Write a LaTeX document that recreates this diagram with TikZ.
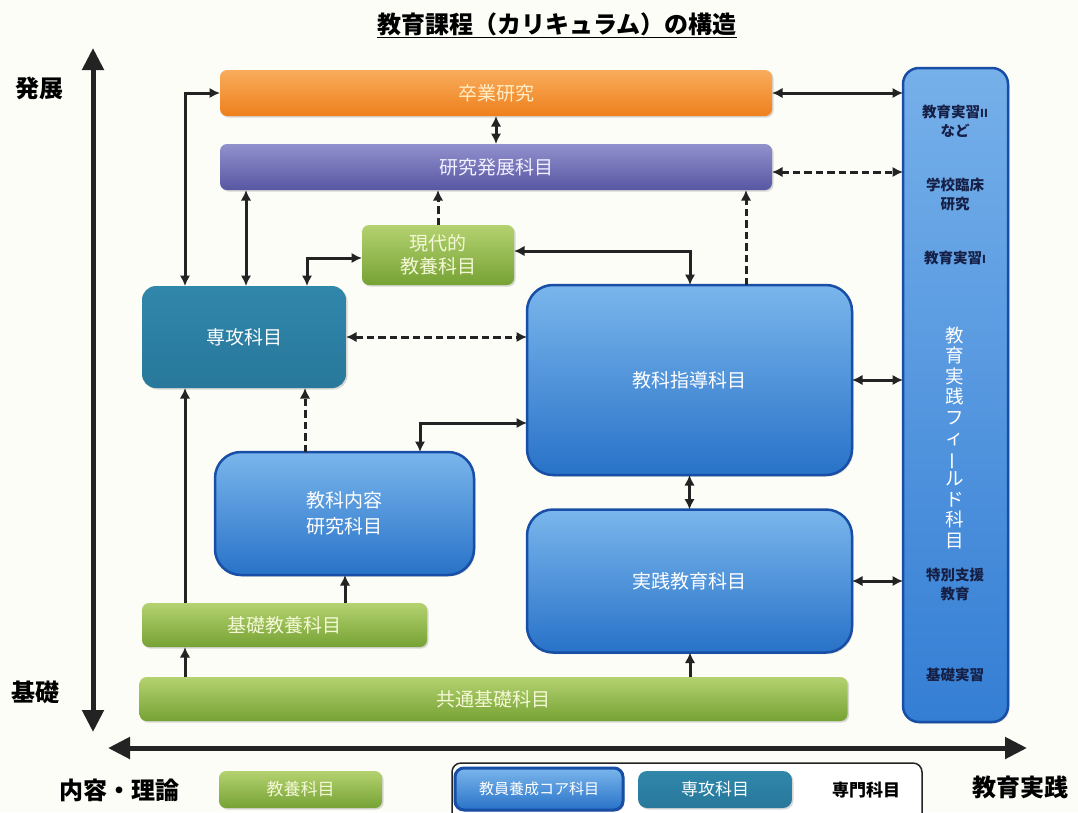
\documentclass[tikz,border=0pt]{standalone}
\usepackage{fontspec}
\usepackage{graphicx}
\setmainfont{Noto Sans CJK JP}
\usetikzlibrary{arrows.meta,shadows}
\definecolor{bg}{RGB}{253,253,247}
\definecolor{orTop}{RGB}{249,172,92}
\definecolor{orBot}{RGB}{238,128,28}
\definecolor{orText}{RGB}{255,238,200}
\definecolor{puTop}{RGB}{145,145,205}
\definecolor{puBot}{RGB}{88,86,162}
\definecolor{puText}{RGB}{240,240,255}
\definecolor{grTop}{RGB}{180,210,112}
\definecolor{grBot}{RGB}{118,162,52}
\definecolor{grText}{RGB}{244,248,214}
\definecolor{teTop}{RGB}{48,135,170}
\definecolor{teMid}{RGB}{82,172,202}
\definecolor{teBot}{RGB}{40,120,155}
\definecolor{blTop}{RGB}{122,182,236}
\definecolor{blBot}{RGB}{40,114,200}
\definecolor{blEdge}{RGB}{24,78,165}
\definecolor{fiTop}{RGB}{118,176,234}
\definecolor{fiBot}{RGB}{52,126,212}
\definecolor{navyText}{RGB}{22,32,70}
\definecolor{lineCol}{RGB}{35,35,35}
\tikzset{
  box/.style={inner sep=0pt, outer sep=0pt, align=center,
    font=\fontsize{19}{25}\selectfont,
    drop shadow={shadow xshift=1.5pt, shadow yshift=-1.5pt, opacity=0.3}},
  orangebox/.style={box, rounded corners=7pt, top color=orTop, bottom color=orBot, text=orText},
  purplebox/.style={box, rounded corners=7pt, top color=puTop, bottom color=puBot, text=puText},
  greenbox/.style={box, rounded corners=7pt, top color=grTop, bottom color=grBot, text=grText},
  tealbox/.style={box, rounded corners=14pt, top color=teTop, middle color=teMid, bottom color=teBot, text=white},
  bluebox/.style={box, rounded corners=26pt, top color=blTop, bottom color=blBot, draw=blEdge, line width=2.5pt, text=white},
  fieldbox/.style={box, rounded corners=16pt, top color=fiTop, bottom color=fiBot, draw=blEdge, line width=2.5pt},
  conn/.style={draw=lineCol, line width=3pt, {Latex[length=10.5pt,width=10.5pt]}-{Latex[length=10.5pt,width=10.5pt]}},
  conn1/.style={draw=lineCol, line width=3pt, -{Latex[length=10.5pt,width=10.5pt]}},
  dash7/.style={dash pattern=on 7.5pt off 4pt},
  axisline/.style={draw=lineCol, line width=5pt, {Triangle[length=22pt,width=21pt]}-{Triangle[length=22pt,width=21pt]}},
  axislabel/.style={font=\fontsize{24}{28}\selectfont\bfseries, text=black},
  fieldtext/.style={font=\fontsize{14.5}{19}\selectfont\bfseries, text=navyText, align=center},
  legtext/.style={font=\fontsize{17}{20}\selectfont}
}
\begin{document}
\begin{tikzpicture}[x=1pt,y=-1pt]
\fill[bg] (0,0) rectangle (1078,812);
\useasboundingbox (0,0) rectangle (1078,812);

% title
\node[font=\fontsize{24}{28}\selectfont\bfseries] (title) at (557,25) {\underline{教育課程（カリキュラム）の構造}};

% axes
\coordinate (vtop) at (93,48);
\coordinate (vbot) at (93,732);
\coordinate (hl) at (108,748);
\coordinate (hr) at (1027,748);
\draw[axisline] (vtop) -- (vbot);
\draw[axisline] (hl) -- (hr);
\node[axislabel] (lhatten) at (40,88) {発展};
\node[axislabel] (lkiso) at (36,692) {基礎};
\node[axislabel] (lnaiyo) at (119,790) {内容・理論};
\node[axislabel] (ljissen) at (1020,787) {教育実践};

% boxes
\node[orangebox, minimum width=552, minimum height=46] (sotsu) at (496,93) {卒業研究};
\node[purplebox, minimum width=552, minimum height=46] (kenkyu) at (496,167) {研究発展科目};
\node[greenbox, minimum width=152, minimum height=60, font=\fontsize{19}{23}\selectfont] (gendai) at (438,255) {現代的\\教養科目};
\node[tealbox, minimum width=204, minimum height=102] (senko) at (244,337) {専攻科目};
\node[bluebox, minimum width=325, minimum height=190] (shido) at (689.5,380) {教科指導科目};
\node[bluebox, minimum width=259, minimum height=123, font=\fontsize{19}{26}\selectfont] (naiyo) at (344.5,513.5) {教科内容\\研究科目};
\node[bluebox, minimum width=325, minimum height=143] (jissen) at (689.5,581) {実践教育科目};
\node[greenbox, minimum width=285, minimum height=44] (kisokyo) at (284.5,625) {基礎教養科目};
\node[greenbox, minimum width=708, minimum height=44] (kyotsu) at (493.5,699) {共通基礎科目};
\node[fieldbox, minimum width=105, minimum height=654] (field) at (955.5,395) {};

% field texts
\node[fieldtext] (f1) at (955,121) {教育実習{\fontsize{11}{12}\selectfont II}\\など};
\node[fieldtext] (f2) at (955,195) {学校臨床\\研究};
\node[fieldtext] (f3) at (955,258) {教育実習{\fontsize{11}{12}\selectfont I}};
\node[font=\fontsize{18.5}{20.5}\selectfont, text=white, align=center] (fv) at (955,437.5)
  {教\\育\\実\\践\\フ\\ィ\\\rotatebox[origin=c]{90}{ー}\\ル\\ド\\科\\目};
\node[fieldtext] (f4) at (955,585) {特別支援\\教育};
\node[fieldtext] (f5) at (955,675) {基礎実習};

% helper coordinates
\coordinate (x185) at (185,0);
\coordinate (x246) at (246,0);
\coordinate (x307) at (307,0);
\coordinate (x305) at (305,0);
\coordinate (x345) at (345,0);
\coordinate (x420) at (420,0);
\coordinate (x690) at (690,0);
\coordinate (x746) at (746,0);
\coordinate (y172) at (0,172);
\coordinate (y258) at (0,258);
\coordinate (y251) at (0,251);
\coordinate (y423) at (0,423);

% connectors
\draw[conn] (sotsu.east) -- (sotsu.east -| field.west);
\draw[conn, dash7] (kenkyu.east |- y172) -- (field.west |- y172);
\draw[conn] (sotsu.south) -- (kenkyu.north);
\draw[conn] (senko.north -| x185) |- (sotsu.west);
\draw[conn] (senko.north -| x246) -- (kenkyu.south -| x246);
\draw[conn] (senko.north -| x307) |- (gendai.west |- y258);
\draw[conn1, dash7] (gendai.north) -- (kenkyu.south -| gendai.north);
\draw[conn] (gendai.east |- y251) -| (shido.north -| x690);
\draw[conn1, dash7] (shido.north -| x746) -- (kenkyu.south -| x746);
\draw[conn, dash7] (senko.east) -- (senko.east -| shido.west);
\draw[conn] (shido.east) -- (shido.east -| field.west);
\draw[conn1, dash7] (naiyo.north -| x305) -- (senko.south -| x305);
\draw[conn] (naiyo.north -| x420) |- (shido.west |- y423);
\draw[conn1] (kisokyo.north -| x185) -- (senko.south -| x185);
\draw[conn1] (kisokyo.north -| x345) -- (naiyo.south -| x345);
\draw[conn1] (kyotsu.north -| x185) -- (kisokyo.south -| x185);
\draw[conn1] (kyotsu.north -| x690) -- (jissen.south -| x690);
\draw[conn] (shido.south) -- (jissen.north);
\draw[conn] (jissen.east) -- (jissen.east -| field.west);

% legend
\node[greenbox, minimum width=163, minimum height=37, legtext] (legkyoyo) at (300.5,789.5) {教養科目};
\node[draw=lineCol, line width=1.5pt, rounded corners=9pt, fill=white, minimum width=470, minimum height=64, inner sep=0pt] (legframe) at (687,795) {};
\node[bluebox, rounded corners=9pt, line width=3pt, minimum width=168, minimum height=42, font=\fontsize{15}{18}\selectfont] (legcore) at (539,789) {教員養成コア科目};
\node[tealbox, rounded corners=9pt, minimum width=154, minimum height=37, legtext] (legsenko) at (715,789.5) {専攻科目};
\node[legtext, font=\fontsize{17}{20}\selectfont\bfseries] (legsenmon) at (866,790) {専門科目};
\end{tikzpicture}
\end{document}
